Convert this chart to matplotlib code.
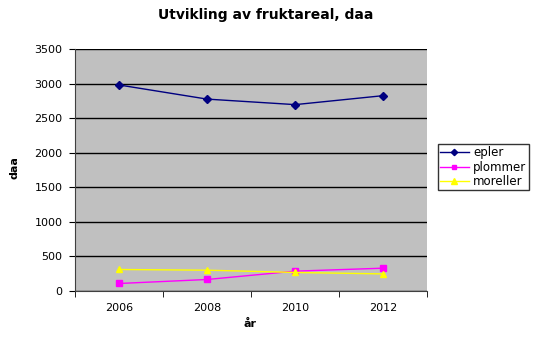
import numpy as np
import matplotlib
matplotlib.use("Agg")
import matplotlib.pyplot as plt

plt.rcParams['font.family'] = ['DejaVu Sans']

years = ["2006", "2008", "2010", "2012"]
epler = [2985, 2780, 2700, 2830]
plommer = [107, 165, 286, 329]
moreller = [310, 300, 267, 246]

fig = plt.figure(figsize=(5.36, 3.41), dpi=100)
ax = fig.add_axes([0.140, 0.147, 0.657, 0.708])
ax.set_facecolor("#C0C0C0")

x = np.arange(len(years))
ax.plot(x, epler, color="#000080", marker="D", markersize=4, linewidth=1, label="epler")
ax.plot(x, plommer, color="#FF00FF", marker="s", markersize=4, linewidth=1, label="plommer")
ax.plot(x, moreller, color="#FFFF00", marker="^", markersize=5, linewidth=1, label="moreller")

ax.set_xlim(-0.5, 3.5)
ax.set_ylim(0, 3500)
ax.set_yticks(range(0, 3501, 500))
ax.set_xticks(x)
ax.set_xticklabels(years)
ax.set_xticks(np.arange(-0.5, 3.6, 1), minor=True)
ax.tick_params(axis="x", which="major", length=0, labelsize=8, pad=9)
ax.tick_params(axis="x", which="minor", length=4, direction="out")
ax.tick_params(axis="y", length=4, labelsize=8, pad=5)
ax.grid(axis="y", color="black", linewidth=1)
ax.set_axisbelow(True)

for side in ["top", "right"]:
    ax.spines[side].set_visible(False)
ax.spines["left"].set_color("#404040")
ax.spines["bottom"].set_color("#404040")

fig.text(0.496, 0.956, "Utvikling av fruktareal, daa", fontsize=10,
         fontweight="bold", ha="center", va="center")
ax.set_ylabel("daa", fontsize=8, fontweight="bold")
ax.yaxis.set_label_coords(-0.159, 0.512)
ax.set_xlabel("år", fontsize=8, fontweight="bold")
ax.xaxis.set_label_coords(0.497, -0.118)

leg = fig.legend(loc="upper left", bbox_to_anchor=(0.817, 0.578), fontsize=8.5,
                 frameon=True, fancybox=False, edgecolor="black",
                 borderpad=0.2, labelspacing=0.12, handlelength=2.4,
                 handletextpad=0.4, borderaxespad=0, markerscale=0.8)
leg.get_frame().set_linewidth(1)

fig.savefig("out.png", dpi=100)
